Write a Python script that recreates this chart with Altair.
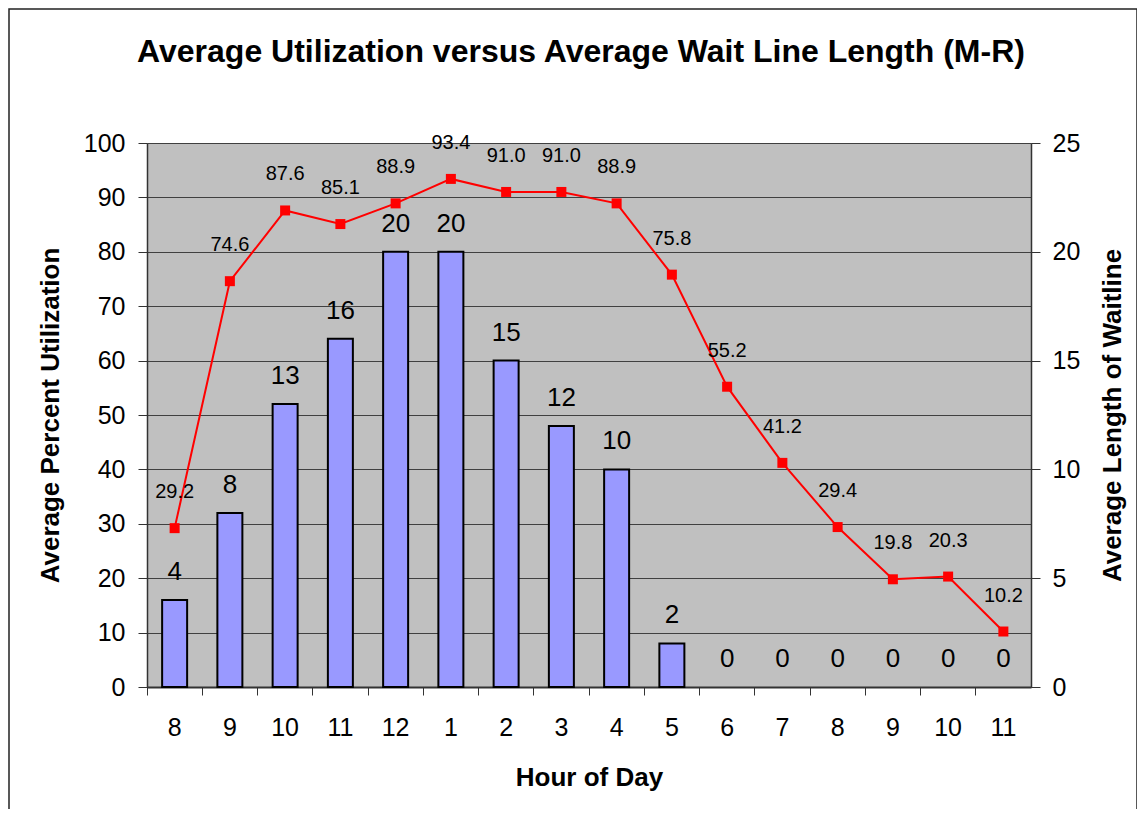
import altair as alt
import pandas as pd

hours = ["8 AM", "9 AM", "10 AM", "11 AM", "12 PM", "1 PM", "2 PM", "3 PM",
         "4 PM", "5 PM", "6 PM", "7 PM", "8 PM", "9 PM", "10 PM", "11 PM"]
utilization = [29.2, 74.6, 87.6, 85.1, 88.9, 93.4, 91.0, 91.0,
               88.9, 75.8, 55.2, 41.2, 29.4, 19.8, 20.3, 10.2]
waitline = [4, 8, 13, 16, 20, 20, 15, 12, 10, 2, 0, 0, 0, 0, 0, 0]

df = pd.DataFrame({"hour": hours, "util": utilization, "wait": waitline})

FONT = "Liberation Sans"
W, H = 884, 544

x_enc = alt.X(
    "hour:N", sort=hours,
    scale=alt.Scale(paddingInner=0, paddingOuter=0),
    axis=alt.Axis(
        title="Hour of Day", labelExpr="split(datum.label, ' ')[0]",
        labelAngle=0, bandPosition=0,
        tickSize=8, tickColor="#333333", domainColor="#333333", domainWidth=2,
        labelFont=FONT, labelFontSize=25, labelColor="black", labelPadding=20,
        titleFont=FONT, titleFontSize=26, titleFontWeight="bold", titleColor="black",
        titlePadding=24,
    ),
)

bars = alt.Chart(df).transform_filter("datum.wait > 0").mark_bar(
    color="#9999FF", stroke="black", strokeWidth=2, size=25
).encode(
    x=x_enc,
    y=alt.Y("wait:Q", scale=alt.Scale(domain=[0, 25], nice=False),
            axis=alt.Axis(orient="right", title="Average Length of Waitline",
                          values=list(range(0, 26, 5)), grid=False,
                          tickSize=9, tickColor="#333333", domainColor="#333333",
                          domainWidth=1.5,
                          labelFont=FONT, labelFontSize=25, labelColor="black",
                          labelPadding=12, titleFont=FONT, titleFontSize=26,
                          titleFontWeight="bold", titleColor="black",
                          titleAngle=270, titlePadding=46)),
)
bar_text = alt.Chart(df).mark_text(
    font=FONT, fontSize=26, color="black", baseline="middle", dy=-28
).encode(x=x_enc, y=alt.Y("wait:Q"), text=alt.Text("wait:Q"))

line = alt.Chart(df).mark_line(color="#FF0000", strokeWidth=2).encode(
    x=x_enc,
    y=alt.Y("util:Q", scale=alt.Scale(domain=[0, 100], nice=False),
            axis=alt.Axis(orient="left", title="Average Percent Utilization",
                          values=list(range(0, 101, 10)), grid=True,
                          gridColor="#404040", gridWidth=1,
                          tickSize=9, tickColor="#333333", domainColor="#333333",
                          domainWidth=1.5,
                          labelFont=FONT, labelFontSize=25, labelColor="black",
                          labelPadding=13, titleFont=FONT, titleFontSize=26,
                          titleFontWeight="bold", titleColor="black",
                          titlePadding=20)),
)
pts = alt.Chart(df).mark_square(color="#FF0000", size=100, opacity=1).encode(
    x=x_enc, y=alt.Y("util:Q"))
line_text = alt.Chart(df).mark_text(
    font=FONT, fontSize=20, color="black", baseline="middle", dy=-36
).encode(x=x_enc, y=alt.Y("util:Q"), text=alt.Text("util:Q", format=".1f"))

frame = alt.Chart(pd.DataFrame({"k": [0]})).mark_rect(
    fill=None, stroke="#222222", strokeWidth=1.5
).encode(x=alt.value(-138), x2=alt.value(990), y=alt.value(-134), y2=alt.value(760))

chart = alt.layer(
    alt.layer(bars, bar_text),
    alt.layer(line, pts, line_text),
    frame,
).resolve_scale(y="independent").properties(
    width=W, height=H,
    title=alt.TitleParams(
        "Average Utilization versus Average Wait Line Length (M-R)",
        font=FONT, fontSize=32, fontWeight="bold", color="black",
        anchor="middle", frame="group", dx=-8, offset=-86, baseline="alphabetic",
    ),
    autosize=alt.AutoSizeParams(type="none"),
    padding={"left": 139, "top": 135, "right": 106, "bottom": 122},
    background="white",
).configure_view(fill="#C0C0C0", stroke="#808080")

chart.save("out.html", embed_options={"renderer": "svg", "actions": False})
